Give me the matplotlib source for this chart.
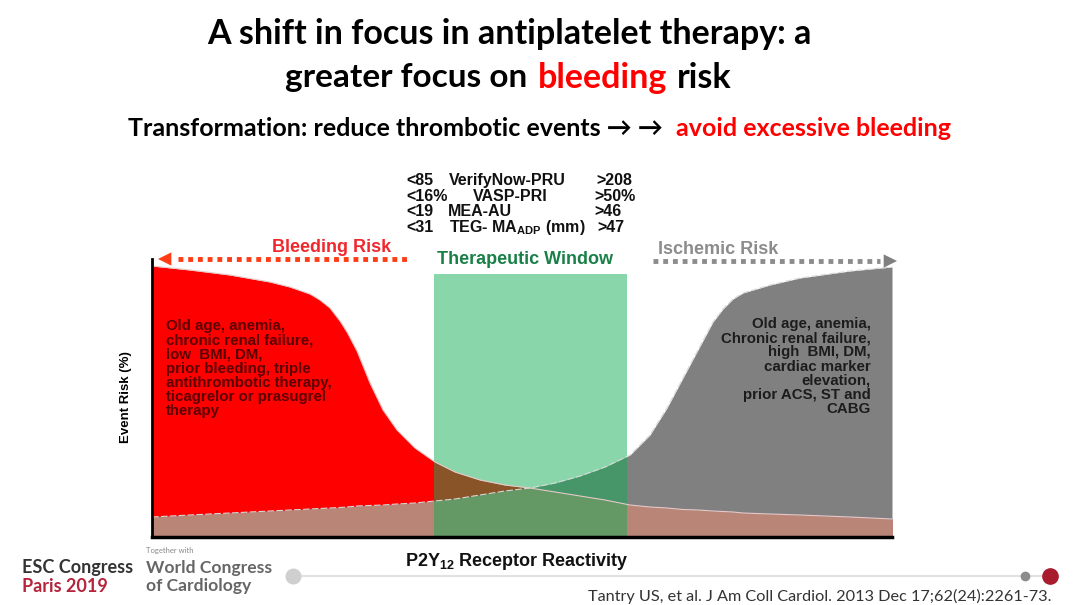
import matplotlib
matplotlib.use('Agg')
import matplotlib.pyplot as plt

# curves, x and risk are in slide pixels from the axes corner
reactivity = [0, 38, 78, 118, 138, 158, 168, 178, 188, 195, 205, 218, 231, 245, 263, 283, 303, 328, 353,
              378, 403, 428, 453, 478, 488, 498, 515, 531, 546, 561, 571, 581, 591, 618, 648, 698, 740]
bleeding = [271, 267, 262, 255, 250, 243, 237, 229, 216, 205, 186, 154, 127, 107, 89, 75, 65, 57, 52,
            49, 45, 41, 37, 32, 31, 30, 29, 27.5, 27, 26, 25.5, 25, 24, 23, 22, 20, 18]
ischemic = [20, 22, 24, 26, 27, 28, 28.5, 29, 29.5, 30, 31, 31.5, 32, 33, 34, 36, 38, 42, 46,
            49, 54, 61, 70, 82, 92, 102, 129, 159, 187, 215, 228, 238, 244, 252, 259, 266, 270]
overlap = [min(a, b) for a, b in zip(bleeding, ischemic)]

window_start = 282
window_width = 193
window_height = 263

bleeding_factors = ['Old age, anemia,', 'chronic renal failure,', 'low  BMI, DM,', 'prior bleeding, triple',
                    'antithrombotic therapy,', 'ticagrelor or prasugrel', 'therapy']
ischemic_factors = ['Old age, anemia,', 'Chronic renal failure,', 'high  BMI, DM,', 'cardiac marker',
                    'elevation,', 'prior ACS, ST and', 'CABG']

# <low, assay, >high
assay_rows = [('<85', 'VerifyNow-PRU', '>208', 449, 596),
              ('<16%', 'VASP-PRI', '>50%', 473, 594),
              ('<19', 'MEA-AU', '>46', 448, 594),
              ('<31', r'TEG- MA$_{\mathbf{ADP}}$ (mm)', '>47', 449, 597)]
assay_y = [185, 201, 216, 232]

plt.rcParams['font.family'] = 'Liberation Sans'
plt.rcParams['mathtext.fontset'] = 'custom'
plt.rcParams['mathtext.rm'] = 'Liberation Sans'
plt.rcParams['mathtext.bf'] = 'Liberation Sans:bold'

plt.figure(figsize=(10.8, 6.05), dpi=100)

# whole slide in pixel coordinates, for everything around the chart
plt.axes([0, 0, 1, 1])
plt.xlim(0, 1080)
plt.ylim(605, 0)
plt.axis('off')

plt.text(509, 34, 'A shift in focus in antiplatelet therapy: a', family='Lato', weight='bold', fontsize=24.5,
         ha='center', va='center')
plt.text(285, 78, 'greater focus on', family='Lato', weight='bold', fontsize=24, va='center')
plt.text(538, 78, 'bleeding', family='Lato', weight='bold', fontsize=24.5, va='center', color='#ff0000')
plt.text(677, 78, 'risk', family='Lato', weight='bold', fontsize=24.5, va='center')
plt.text(128, 128, 'Transformation: reduce thrombotic events \u2192 \u2192', family=['Lato', 'DejaVu Sans'],
         weight='bold', fontsize=18, va='center')
plt.text(676, 128, 'avoid excessive bleeding', family='Lato', weight='bold', fontsize=18, va='center',
         color='#ff0000')

for row, y in zip(assay_rows, assay_y):
    plt.text(406, y, row[0], weight='bold', fontsize=11.5, va='baseline', color='#111111')
    plt.text(row[3], y, row[1], weight='bold', fontsize=11.5, va='baseline', color='#111111')
    plt.text(row[4], y, row[2], weight='bold', fontsize=11.5, va='baseline', color='#111111')

plt.text(332, 248, 'Bleeding Risk', weight='bold', fontsize=13, ha='center', va='center', color='#f0282d')
plt.text(525, 259, 'Therapeutic Window', weight='bold', fontsize=13, ha='center', va='center', color='#1a8048')
plt.text(718, 250, 'Ischemic Risk', weight='bold', fontsize=13, ha='center', va='center', color='#8c8c8c')

plt.text(126, 397, 'Event Risk (%)', weight='bold', fontsize=9.5, rotation=90, ha='center', va='center')
plt.text(517, 561, r'P2Y$_{\mathbf{12}}$ Receptor Reactivity', weight='bold', fontsize=13, ha='center',
         va='center', color='#111111')

# risk factors, one baseline per line
for i, line in enumerate(bleeding_factors):
    plt.text(166, 330 + i * 14.2, line, weight='bold', fontsize=10.8, va='baseline', color='#5a0000', zorder=5)
for i, line in enumerate(ischemic_factors):
    plt.text(871, 328 + i * 14.2, line, weight='bold', fontsize=10.8, va='baseline', ha='right', color='#1c1c1c',
             zorder=5)

# footer
plt.plot([293, 1050], [576, 576], color='#e2e2e2', lw=1.5)
plt.plot(293, 576, 'o', ms=10.5, color='#cfcfcf')
plt.plot(1025, 576, 'o', ms=6, color='#8c8c8c')
plt.plot(1050, 576, 'o', ms=11, color='#a81c2e')
plt.text(22, 567, 'ESC Congress', family='Lato', weight='bold', fontsize=13, va='center', color='#333333')
plt.text(22, 586, 'Paris 2019', family='Lato', weight='bold', fontsize=13, va='center', color='#b5243a')
plt.text(146, 551, 'Together with', family='Lato', fontsize=5.5, va='center', color='#888888')
plt.text(146, 568, 'World Congress', family='Lato', weight='bold', fontsize=12.6, va='center', color='#666666')
plt.text(146, 586, 'of Cardiology', family='Lato', weight='bold', fontsize=12.6, va='center', color='#666666')
plt.text(588, 596, 'Tantry US, et al. J Am Coll Cardiol. 2013 Dec 17;62(24):2261-73.', family='Lato',
         fontsize=11.7, va='center', color='#333333')

# the chart itself
plt.axes([152 / 1080, (605 - 537) / 605, 740 / 1080, 278 / 605], facecolor='none', zorder=-1)
plt.fill_between(reactivity, 0, bleeding, color='#ff0000', lw=0)
plt.fill_between(reactivity, 0, ischemic, color='#808080', lw=0)
plt.fill_between(reactivity, 0, overlap, color='#b98577', lw=0)
plt.plot(reactivity, bleeding, color='#e8c8c8', lw=0.8)
plt.plot(reactivity, ischemic, color='#d8d8d8', lw=0.8, ls=(0, (6, 2)))
plt.bar(window_start, window_height, width=window_width, align='edge', color='#0cad52', alpha=0.49)

plt.plot([26, 256], [278, 278], color='#ff3c14', lw=3.5, ls=(0, (1, 1)), clip_on=False)
plt.annotate('', xy=(6, 278), xytext=(26, 278), annotation_clip=False,
             arrowprops=dict(arrowstyle='-|>', mutation_scale=24, color='#ff3c14', lw=0, shrinkA=0, shrinkB=0))
plt.plot([501, 728], [276, 276], color='#8c8c8c', lw=3.5, ls=(0, (1, 1)), clip_on=False)
plt.annotate('', xy=(745, 276), xytext=(728, 276), annotation_clip=False,
             arrowprops=dict(arrowstyle='-|>', mutation_scale=24, color='#808080', lw=0, shrinkA=0, shrinkB=0))

plt.xlim(0, 740)
plt.ylim(0, 278)
plt.xticks([])
plt.yticks([])
for side in ['top', 'right']:
    plt.gca().spines[side].set_visible(False)
plt.gca().spines['left'].set_linewidth(2)
plt.gca().spines['bottom'].set_linewidth(2.5)

plt.savefig('out.png', dpi=100)
